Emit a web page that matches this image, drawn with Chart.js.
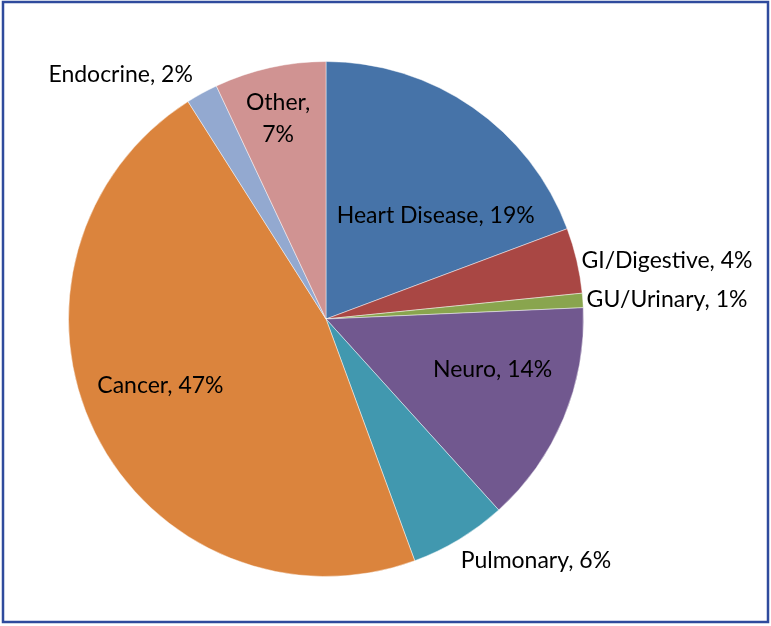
<!DOCTYPE html>
<html>
<head>
    <meta charset="UTF-8" />
    <title>Causes</title>
    <style>
        body { margin: 0; background: #ffffff; }
        canvas { display: block; }
    </style>
</head>
<body>
    <canvas id="grafico" width="771" height="626"></canvas>
    <script src="https://cdn.jsdelivr.net/npm/chart.js"></script>
    <script>
        // datos (las etiquetas muestran el valor redondeado)
        const categorias = ['Heart Disease', 'GI/Digestive', 'GU/Urinary', 'Neuro', 'Pulmonary', 'Cancer', 'Endocrine', 'Other'];
        const valores = [19.3, 4.1, 0.9, 14.0, 6.1, 46.6, 2.0, 7.0];
        const colores = ['#4673a8', '#a94744', '#89a54e', '#71588f', '#4198af', '#db843d', '#93a9d0', '#d09392'];

        // donde va cada etiqueta (en radios desde el centro) y su alineacion
        const posEtiquetas = [
            [0.426, -0.403, 'center'],
            [0.992, -0.225, 'left'],
            [1.012, -0.074, 'left'],
            [0.647, 0.198, 'center'],
            [0.523, 0.938, 'left'],
            [-0.643, 0.260, 'center'],
            [-1.078, -0.950, 'left'],
            [-0.186, -0.779, 'center']
        ];
        const enDosLineas = ['Other'];

        const etiquetasPlugin = {
            id: 'etiquetas',
            beforeDraw(chart) {
                const c = chart.ctx;
                c.save();
                c.fillStyle = '#ffffff';
                c.fillRect(0, 0, chart.width, chart.height);
                c.strokeStyle = '#2f4b9d';
                c.lineWidth = 2.5;
                c.strokeRect(3, 2, chart.width - 6, chart.height - 6);
                c.restore();
            },
            afterDatasetsDraw(chart) {
                const c = chart.ctx;
                const arcos = chart.getDatasetMeta(0).data;
                c.save();
                c.font = '23px "Lato", "Open Sans", sans-serif';
                c.fillStyle = '#000000';
                c.textBaseline = 'middle';
                arcos.forEach((arco, i) => {
                    const r = arco.outerRadius;
                    const p = posEtiquetas[i];
                    const x = arco.x + p[0] * r;
                    const y = arco.y + p[1] * r;
                    const pct = Math.round(valores[i]) + '%';
                    c.textAlign = p[2];
                    if (enDosLineas.includes(categorias[i])) {
                        c.fillText(categorias[i] + ',', x, y - 16);
                        c.fillText(pct, x, y + 16);
                    } else {
                        c.fillText(categorias[i] + ', ' + pct, x, y);
                    }
                });
                c.restore();
            }
        };

        new Chart(document.getElementById('grafico'), {
            type: 'pie',
            data: {
                labels: categorias,
                datasets: [{
                    data: valores,
                    backgroundColor: colores,
                    borderColor: 'rgba(255,255,255,0.45)',
                    borderWidth: 1
                }]
            },
            options: {
                responsive: false,
                animation: false,
                layout: { padding: { top: 61, bottom: 49, left: 68, right: 187 } },
                plugins: {
                    legend: { display: false },
                    tooltip: { enabled: false }
                }
            },
            plugins: [etiquetasPlugin]
        });
    </script>
</body>
</html>
